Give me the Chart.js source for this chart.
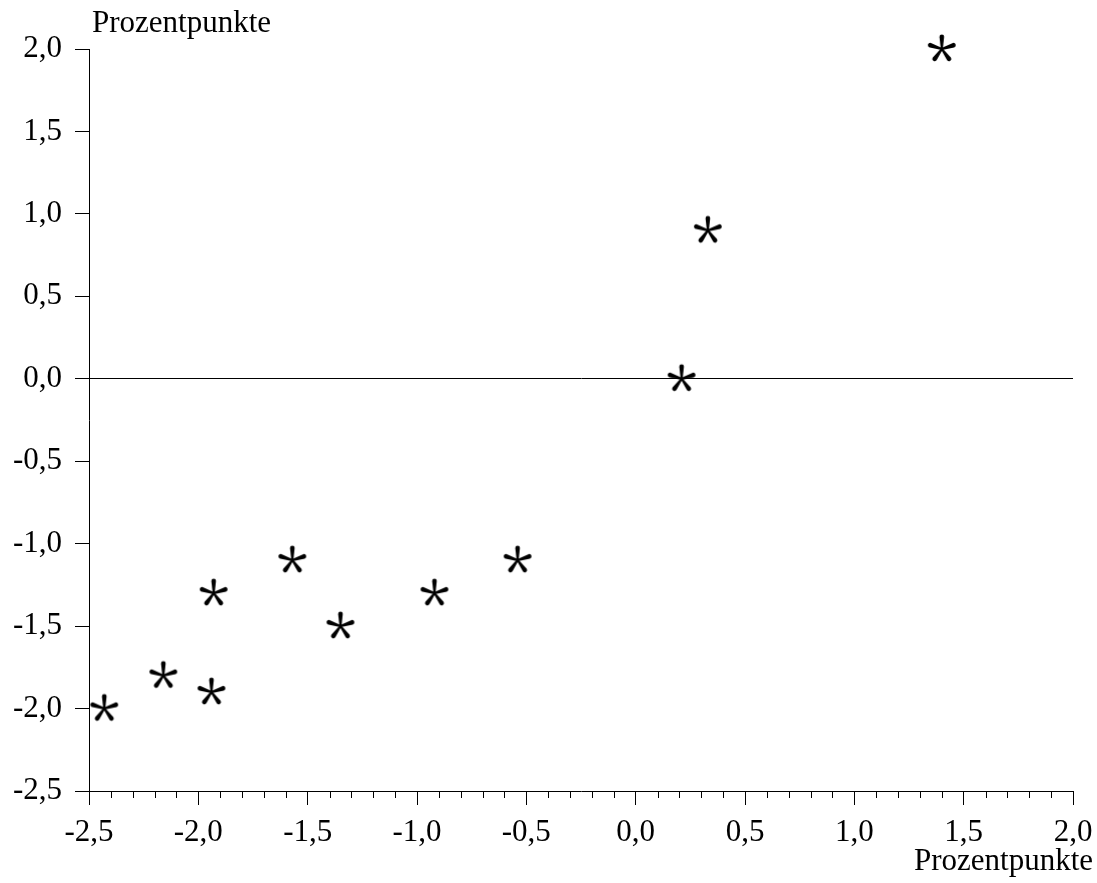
<!DOCTYPE html>
<html>
<head>
<meta charset="utf-8">
<script src="https://cdn.jsdelivr.net/npm/chart.js@4"></script>
<style>
  html, body { margin: 0; padding: 0; background: #fff; }
  #wrap { width: 1097px; height: 883px; }
</style>
</head>
<body>
<div id="wrap"><canvas id="scatter"></canvas></div>
<script>
// data
const xValues = [1.40, 0.33, 0.21, -0.54, -0.92, -1.57, -1.35, -1.93, -1.94, -2.16, -2.43];
const yValues = [2.0, 0.9, 0.0, -1.1, -1.3, -1.1, -1.5, -1.3, -1.9, -1.8, -2.0];
const axisTitle = 'Prozentpunkte';
const xMin = -2.5, xMax = 2.0, yMin = -2.5, yMax = 2.0;

const FONT = '"Liberation Serif", "Times New Roman", serif';

// five-armed asterisk marker
function makeStar() {
    const c = document.createElement('canvas');
    c.width = 34; c.height = 34;
    const g = c.getContext('2d');
    g.translate(17, 17);
    g.fillStyle = '#000';
    for (let i = 0; i < 5; i++) {
        g.save();
        g.rotate(i * 2 * Math.PI / 5);
        g.beginPath();
        g.moveTo(-1.0, 0);
        g.lineTo(-2.3, -11.8);
        g.arc(0, -12.2, 2.3, Math.PI, 0);
        g.lineTo(1.0, 0);
        g.closePath();
        g.fill();
        g.restore();
    }
    return c;
}
const star = makeStar();

const fmt = v => (Math.abs(v) < 1e-9 ? 0 : v).toFixed(1).replace('.', ',');

const points = xValues.map((x, i) => ({ x: x, y: yValues[i] }));

// minor ticks on the x axis and the two axis titles
const extras = {
    id: 'extras',
    afterDraw(chart) {
        const ctx = chart.ctx;
        const xs = chart.scales.x;
        const bottom = chart.chartArea.bottom;
        ctx.save();
        ctx.strokeStyle = '#000';
        ctx.lineWidth = 1;
        for (let k = 0; k <= 45; k++) {
            if (k % 5 === 0) continue;
            const px = Math.round(xs.getPixelForValue(xMin + k * 0.1)) + 0.5;
            ctx.beginPath();
            ctx.moveTo(px, bottom);
            ctx.lineTo(px, bottom + 7);
            ctx.stroke();
        }
        ctx.fillStyle = '#000';
        ctx.font = '31px ' + FONT;
        ctx.textBaseline = 'alphabetic';
        ctx.textAlign = 'left';
        ctx.fillText(axisTitle, 92, 32);
        ctx.textAlign = 'right';
        ctx.fillText(axisTitle, 1093, 870);
        ctx.restore();
    }
};

new Chart(document.getElementById('scatter'), {
    type: 'scatter',
    data: {
        datasets: [{
            data: points,
            pointStyle: star,
            pointRadius: 15,
            pointHoverRadius: 15,
            clip: false
        }]
    },
    options: {
        responsive: true,
        maintainAspectRatio: false,
        animation: false,
        events: [],
        layout: { padding: { top: 49, right: 24, bottom: 0, left: 0 } },
        plugins: { legend: { display: false }, tooltip: { enabled: false } },
        scales: {
            x: {
                type: 'linear',
                min: xMin, max: xMax,
                afterFit: s => { s.height = 92; s.paddingLeft = 0; s.paddingRight = 0; },
                border: { display: true, color: '#000', width: 1 },
                grid: { drawOnChartArea: false, drawTicks: true, tickLength: 14, tickColor: '#000' },
                ticks: {
                    stepSize: 0.5, padding: 9, color: '#000', maxRotation: 0,
                    font: { family: FONT, size: 31 },
                    callback: v => fmt(v)
                }
            },
            y: {
                type: 'linear',
                min: yMin, max: yMax,
                afterFit: s => { s.width = 89; s.paddingTop = 0; s.paddingBottom = 0; },
                border: { display: true, color: '#000', width: 1 },
                grid: {
                    drawOnChartArea: true, drawTicks: true, tickLength: 14, tickColor: '#000',
                    color: c => (c.tick && Math.abs(c.tick.value) < 1e-9 ? '#000' : 'rgba(0,0,0,0)')
                },
                ticks: {
                    stepSize: 0.5, padding: 13, color: '#000',
                    font: { family: FONT, size: 31 },
                    callback: v => fmt(v)
                }
            }
        }
    },
    plugins: [extras]
});
</script>
</body>
</html>
